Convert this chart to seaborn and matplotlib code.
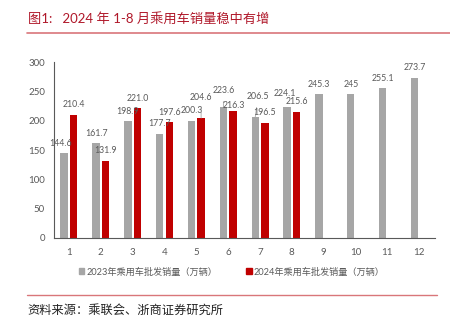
import numpy as np
import pandas as pd
import matplotlib
matplotlib.use("Agg")
import matplotlib.pyplot as plt
import seaborn as sns

months = [str(m) for m in range(1, 13)]
sales_2023 = [144.6, 161.7, 198.9, 177.7, 200.3, 223.6, 206.5, 224.1, 245.3, 245.0, 255.1, 273.7]
sales_2024 = [210.4, 131.9, 221.0, 197.6, 204.6, 216.3, 196.5, 215.6, None, None, None, None]
labels_2023 = ["144.6", "161.7", "198.9", "177.7", "200.3", "223.6", "206.5", "224.1", "245.3", "245", "255.1", "273.7"]
labels_2024 = ["210.4", "131.9", "221.0", "197.6", "204.6", "216.3", "196.5", "215.6"]
series_names = ["2023年乘用车批发销量（万辆）", "2024年乘用车批发销量（万辆）"]
title_text = "图1:   2024 年 1-8 月乘用车销量稳中有增"
source_text = "资料来源：乘联会、浙商证券研究所"

sns.set_style("white")
plt.rcParams['font.family'] = ['Lato', 'Noto Sans CJK SC', 'DejaVu Sans']

df = pd.DataFrame({
    "month": months * 2,
    "value": sales_2023 + [np.nan if v is None else v for v in sales_2024],
    "series": [series_names[0]] * 12 + [series_names[1]] * 12,
})

fig = plt.figure(figsize=(4.5, 3.22), dpi=100)
ax = fig.add_axes([0.120, 0.261, 0.847, 0.546])

GRAY = "#A6A6A6"
RED = "#C00000"
TXT = "#595959"
sns.barplot(data=df, x="month", y="value", hue="series", order=months,
            hue_order=series_names, palette=[GRAY, RED], width=0.6, gap=0.22,
            ax=ax, legend=True, saturation=1, linewidth=0, edgecolor="none")

ax.set_ylim(0, 300)
ax.set_yticks(range(0, 301, 50))
ax.set_xlim(-0.47, 11.5)
ax.set_xlabel("")
ax.set_ylabel("")
for s in ["top", "right"]:
    ax.spines[s].set_visible(False)
for s in ["left", "bottom"]:
    ax.spines[s].set_color("#595959")
    ax.spines[s].set_linewidth(0.8)
ax.tick_params(axis="y", labelsize=7, colors="#595959", length=2.5, width=0.8,
               direction="in", pad=6.5)
ax.tick_params(axis="x", labelsize=7, colors="#595959", length=0, pad=7)
for t in ax.get_yticklabels() + ax.get_xticklabels():
    t.set_color(TXT)

# label placement tweaks (dx px, extra dy px), leader line flag
tweaks = {
    (0, 0): (-4, 0, False),
    (1, 4): (0, 11, True),
    (0, 5): (0, 6, True),
    (1, 5): (1, -4, False),
    (0, 6): (3, 10, True),
    (0, 7): (-2, 3, False),
    (1, 7): (0, 0, False),
}
px2pt = 72 / 100
label_sets = [labels_2023, labels_2024]
for si, (cont, labs) in enumerate(zip(ax.containers, label_sets)):
    bars = [b for b in cont if np.isfinite(b.get_height()) and b.get_height() > 0]
    for bi, (b, lab) in enumerate(zip(bars, labs)):
        dx, dy, lead = tweaks.get((si, bi), (0, 0, False))
        xy = (b.get_x() + b.get_width() / 2, b.get_height())
        kw = {}
        if lead:
            kw["arrowprops"] = dict(arrowstyle="-", color="#A6A6A6", lw=0.6,
                                    shrinkA=2, shrinkB=0)
        ax.annotate(lab, xy, xytext=(dx * px2pt, (10 + dy) * px2pt),
                    textcoords="offset points", ha="center", va="center",
                    fontsize=6.3, color=TXT, **kw)

ax.get_legend().remove()
handles = [plt.Rectangle((0, 0), 1, 1, color=c) for c in [GRAY, RED]]
fig.legend(handles, series_names, loc="center", bbox_to_anchor=(0.515, 1 - 272 / 322),
           ncol=2, frameon=False, fontsize=6.6, handlelength=0.6, handleheight=0.6,
           handletextpad=0.2, columnspacing=3.2, labelcolor=TXT)

fig.text(28 / 450, 1 - 18 / 322, title_text, fontsize=9.5, color="#B0182A",
         ha="left", va="center")
fig.add_artist(plt.Line2D([27 / 450, 1.0], [1 - 33 / 322] * 2, color="#D9767A", lw=1.2))
fig.add_artist(plt.Line2D([27 / 450, 437 / 450], [1 - 295 / 322] * 2, color="#D9767A", lw=1.0))
fig.text(27 / 450, 1 - 310 / 322, source_text, fontsize=8.8, color="#222222",
         ha="left", va="center")

fig.savefig("out.png", dpi=100)
